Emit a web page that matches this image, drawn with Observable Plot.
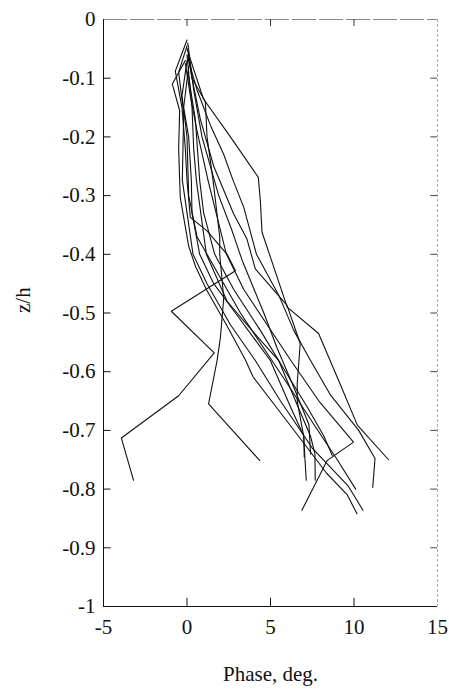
<!DOCTYPE html>
<html><head><meta charset="utf-8">
<script src="https://cdn.jsdelivr.net/npm/d3@7"></script>
<script src="https://cdn.jsdelivr.net/npm/@observablehq/plot@0.6"></script>
<style>
body{margin:0;background:#fff}
#chart svg, #chart svg text{font-family:"Liberation Serif","DejaVu Serif",serif !important;}
</style></head>
<body><div id="chart"></div>
<script>
// Tick values
const xTicks = [-5, 0, 5, 10, 15];
const yTicks = [0, -0.1, -0.2, -0.3, -0.4, -0.5, -0.6, -0.7, -0.8, -0.9, -1];

// Phase profiles: [phase (deg), z/h]
const profileA = [[0.0,-0.035],[-0.7,-0.088],[-0.3,-0.15],[-0.1,-0.22],[0.0,-0.274],[0.2,-0.337],[1.2,-0.36],[2.4,-0.40],[2.9,-0.428],[-0.94,-0.497],[1.63,-0.568],[-0.5,-0.641],[-3.93,-0.713],[-3.2,-0.785]];
const profileB = [[0.05,-0.06],[0.3,-0.1],[1.1,-0.14],[1.2,-0.2],[1.56,-0.274],[1.96,-0.37],[1.96,-0.40],[2.2,-0.475],[2.0,-0.542],[1.8,-0.581],[1.29,-0.655],[4.35,-0.751]];
const profileC = [[0.0,-0.05],[0.98,-0.135],[2.6,-0.2],[4.27,-0.269],[4.39,-0.308],[4.49,-0.362],[6.0,-0.49],[7.88,-0.535],[9.08,-0.615],[10.2,-0.691],[12.07,-0.75]];
const profileD = [[0.05,-0.065],[0.6,-0.12],[1.4,-0.18],[2.2,-0.23],[2.76,-0.274],[3.4,-0.32],[4.16,-0.40],[5.5,-0.47],[6.4,-0.53],[7.38,-0.58],[8.6,-0.64],[10.28,-0.70],[11.26,-0.748],[11.12,-0.797]];
const profileE = [[-0.1,-0.075],[0.2,-0.13],[0.6,-0.19],[1.26,-0.274],[2.36,-0.40],[3.4,-0.46],[4.8,-0.52],[6.2,-0.58],[7.9,-0.65],[9.97,-0.72],[8.4,-0.751],[6.88,-0.836]];
const profileF = [[-0.1,-0.07],[-0.88,-0.11],[-0.44,-0.155],[-0.5,-0.22],[-0.44,-0.274],[-0.4,-0.304],[0.1,-0.386],[0.5,-0.42],[1.16,-0.46],[2.36,-0.52],[3.5,-0.58],[3.96,-0.609],[5.36,-0.661],[6.76,-0.713],[8.36,-0.773],[9.6,-0.81],[10.18,-0.842]];
const profileG = [[0.0,-0.045],[-0.5,-0.09],[-0.2,-0.16],[-0.28,-0.274],[0.36,-0.40],[1.2,-0.45],[2.6,-0.52],[4.09,-0.581],[5.6,-0.65],[7.5,-0.73],[9.66,-0.795],[10.54,-0.836]];
const profileH = [[0.05,-0.05],[0.3,-0.1],[0.8,-0.17],[1.6,-0.25],[2.79,-0.331],[3.59,-0.374],[4.09,-0.425],[5.99,-0.487],[6.78,-0.552],[6.6,-0.62],[6.6,-0.65],[6.98,-0.709],[7.14,-0.785]];
const profileI = [[0.1,-0.08],[-0.2,-0.15],[0.1,-0.2],[0.26,-0.274],[0.3,-0.33],[0.76,-0.40],[1.6,-0.45],[2.9,-0.5],[4.99,-0.581],[6.2,-0.66],[7.0,-0.71],[7.02,-0.745]];
const profileJ = [[0.0,-0.06],[0.3,-0.15],[0.4,-0.22],[0.56,-0.274],[1.16,-0.40],[2.4,-0.48],[4.2,-0.54],[5.49,-0.581],[6.5,-0.65],[7.4,-0.71],[7.66,-0.74],[7.68,-0.785]];
const profileK = [[0.05,-0.09],[0.5,-0.17],[0.76,-0.274],[1.0,-0.33],[1.66,-0.40],[2.8,-0.46],[4.4,-0.53],[5.9,-0.6],[7.2,-0.66],[8.2,-0.71],[8.7,-0.743]];
const profileL = [[0.0,-0.07],[-0.3,-0.13],[0.0,-0.2],[0.1,-0.3],[0.6,-0.37],[1.8,-0.43],[3.2,-0.5],[4.6,-0.56],[6.0,-0.62],[7.6,-0.69],[9.0,-0.75],[10.1,-0.8]];
const profileM = [[0.05,-0.04],[0.4,-0.12],[0.9,-0.2],[1.9,-0.3],[2.7,-0.36],[3.3,-0.41],[4.6,-0.5],[5.4,-0.56],[6.3,-0.62],[7.3,-0.69],[7.4,-0.74]];

const profiles = {A: profileA, B: profileB, C: profileC, D: profileD, E: profileE, F: profileF,
  G: profileG, H: profileH, I: profileI, J: profileJ, K: profileK, L: profileL, M: profileM};
const rows = Object.entries(profiles).flatMap(([id, pts]) => pts.map(([x, z]) => ({id, x, z})));

const inner = xTicks.slice(1, -1);
const innerY = yTicks.slice(1, -1);

const chart = Plot.plot({
  width: 449, height: 689,
  marginTop: 19, marginBottom: 83, marginLeft: 103, marginRight: 12,
  style: {fontSize: "21px", color: "#111", background: "#fff"},
  x: {domain: [-5, 15], ticks: xTicks, tickSize: 0, tickPadding: 13, tickFormat: d => String(d), label: null},
  y: {domain: [-1, 0], ticks: yTicks, tickSize: 0, tickPadding: 8, tickFormat: d => String(d), label: null},
  marks: [
    Plot.ruleY([0], {stroke: "#888", strokeDasharray: "24,3"}),
    Plot.ruleX([15], {stroke: "#aaa", strokeDasharray: "3,2"}),
    Plot.ruleX([-5], {stroke: "#111"}),
    Plot.ruleY([-1], {stroke: "#111"}),
    Plot.ruleX(inner, {x: d => d, y1: -1, y2: -0.986, stroke: "#111"}),
    Plot.ruleX(inner, {x: d => d, y1: 0, y2: -0.012, stroke: "#333"}),
    Plot.ruleY(innerY, {y: d => d, x1: -5, x2: -4.55, stroke: "#111"}),
    Plot.ruleY(innerY, {y: d => d, x1: 15, x2: 14.6, stroke: "#444"}),
    Plot.line(rows, {x: "x", y: "z", z: "id", stroke: "#111", strokeWidth: 1.1}),
    Plot.text(["Phase, deg."], {text: d => d, frameAnchor: "bottom", dy: 74, fontSize: 21}),
    Plot.text(["z/h"], {text: d => d, frameAnchor: "left", dx: -80, rotate: -90, fontSize: 21})
  ]
});
document.getElementById("chart").appendChild(chart);
</script>
</body></html>
